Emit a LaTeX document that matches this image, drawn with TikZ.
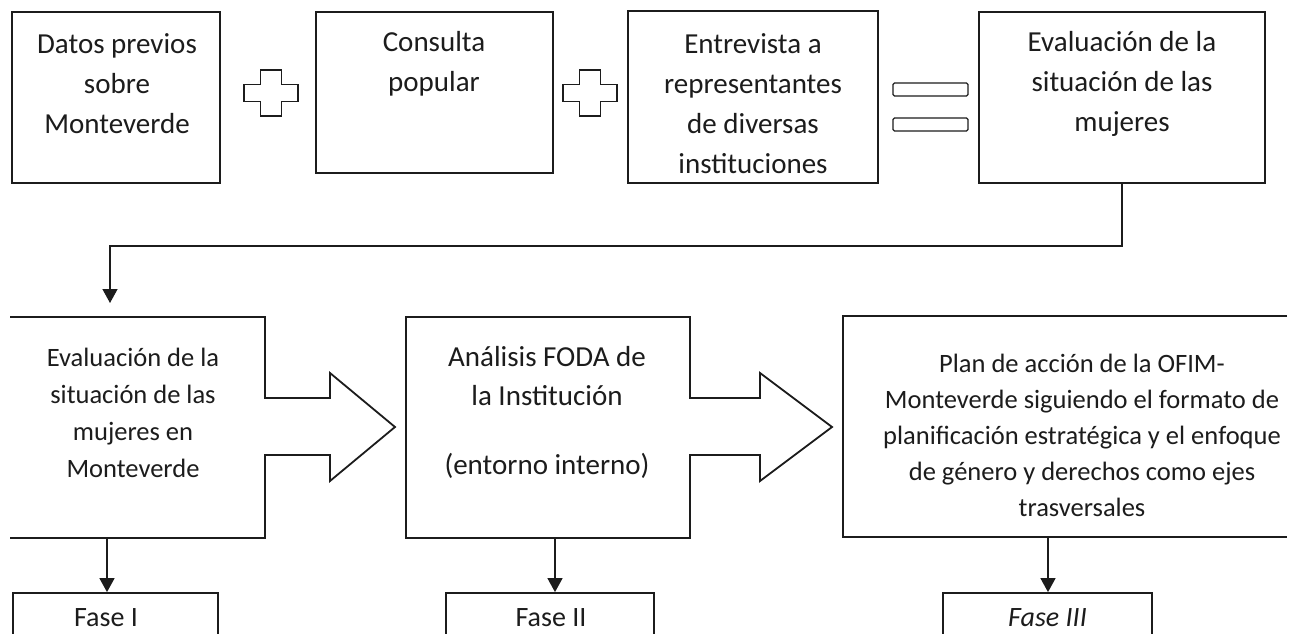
\documentclass[tikz,border=0pt]{standalone}
\usepackage{fontspec}
\setmainfont{Carlito}
\usetikzlibrary{arrows.meta}
\definecolor{ink}{HTML}{1C1C1C}
\begin{document}
\begin{tikzpicture}[x=1pt,y=-1pt,line join=miter,
  box/.style={draw=ink, line width=1.8pt, inner sep=0pt, fill=none},
  outline/.style={draw=ink, line width=1.8pt},
  sign/.style={draw=ink, line width=1.4pt},
  txt/.style={align=center, inner sep=0pt, text=ink},
  toptxt/.style={txt, font=\fontsize{29}{40}\selectfont},
  midtxt/.style={txt, font=\fontsize{26.5}{37}\selectfont},
  fasetxt/.style={txt, font=\fontsize{28}{30}\selectfont},
  conn/.style={draw=ink, line width=1.4pt, -{Triangle[length=14pt,width=15pt]}},
  plussign/.pic={\draw[sign] (-27,-8.5) -- (-10.5,-8.5) -- (-10.5,-23) -- (10.5,-23) -- (10.5,-8.5) -- (27,-8.5) -- (27,8.5) -- (10.5,8.5) -- (10.5,23) -- (-10.5,23) -- (-10.5,8.5) -- (-27,8.5) -- cycle;}
  ]
\path[use as bounding box, fill=white] (0,0) rectangle (1302,634);
\clip (0,0) rectangle (1302,634);

% ---- top row ----
\node[box, minimum width=208pt, minimum height=171pt] (b1) at (116,97.5) {};
\node[box, minimum width=237pt, minimum height=161pt] (b2) at (434.5,92.5) {};
\node[box, minimum width=250pt, minimum height=172pt] (b3) at (753,97) {};
\node[box, minimum width=286pt, minimum height=171pt] (b4) at (1122,97.5) {};

\node[toptxt] (t1) at (117,84) {Datos previos\\sobre\\Monteverde};
\node[toptxt] (t2) at (434,64) {Consulta\\popular};
\node[toptxt] (t3) at (753,104) {Entrevista a\\representantes\\de diversas\\instituciones};
\node[toptxt] (t4) at (1122,84) {Evaluación de la\\situación de las\\mujeres};

\pic at (271,93) {plussign};
\pic at (590,93) {plussign};
\draw[sign, rounded corners=1.5pt] (893,83) rectangle (968,96);
\draw[sign, rounded corners=1.5pt] (893,118) rectangle (968,131);

% ---- connector top to middle ----
\coordinate (turn) at (110,246);
\coordinate (tipA) at (110,303);
\draw[conn] (b4.south) |- (turn) -- (tipA);

% ---- middle row ----
\draw[outline] (10,317) -- (265,317) -- (265,398) -- (330,398) -- (330,373) -- (395,427)
  -- (330,481) -- (330,455) -- (265,455) -- (265,538) -- (10,538);
\draw[outline] (406,317) -- (690,317) -- (690,398) -- (760,398) -- (760,373) -- (832,427)
  -- (760,481) -- (760,455) -- (690,455) -- (690,538) -- (406,538) -- cycle;
\draw[outline] (1287,316) -- (843,316) -- (843,537) -- (1287,537);

\node[midtxt] (tA) at (133,413) {Evaluación de la\\situación de las\\mujeres en\\Monteverde};
\node[txt, font=\fontsize{29}{39}\selectfont, anchor=north] (tB) at (547,346) {Análisis FODA de\\la Institución\\[30pt](entorno interno)};
\node[midtxt, font=\fontsize{26.5}{36}\selectfont] (tC) at (1082,435) {Plan de acción de la OFIM-\\Monteverde siguiendo el formato de\\planificación estratégica y el enfoque\\de género y derechos como ejes\\trasversales};

% ---- phases ----
\node[box, minimum width=205pt, minimum height=80pt] (F1) at (115.5,633) {};
\node[box, minimum width=208pt, minimum height=80pt] (F2) at (550,633) {};
\node[box, minimum width=209pt, minimum height=80pt] (F3) at (1047.5,633) {};
\node[fasetxt] (f1) at (106,618) {Fase I};
\node[fasetxt] (f2) at (551,618) {Fase II};
\node[fasetxt, font=\fontsize{28}{30}\selectfont\itshape] (f3) at (1047.5,618) {Fase III};

\coordinate (a1) at (107,538);
\coordinate (a2) at (555,538);
\coordinate (a3) at (1048,537);
\draw[conn] (a1) -- (a1 |- F1.north);
\draw[conn] (a2) -- (a2 |- F2.north);
\draw[conn] (a3) -- (a3 |- F3.north);
\end{tikzpicture}
\end{document}
